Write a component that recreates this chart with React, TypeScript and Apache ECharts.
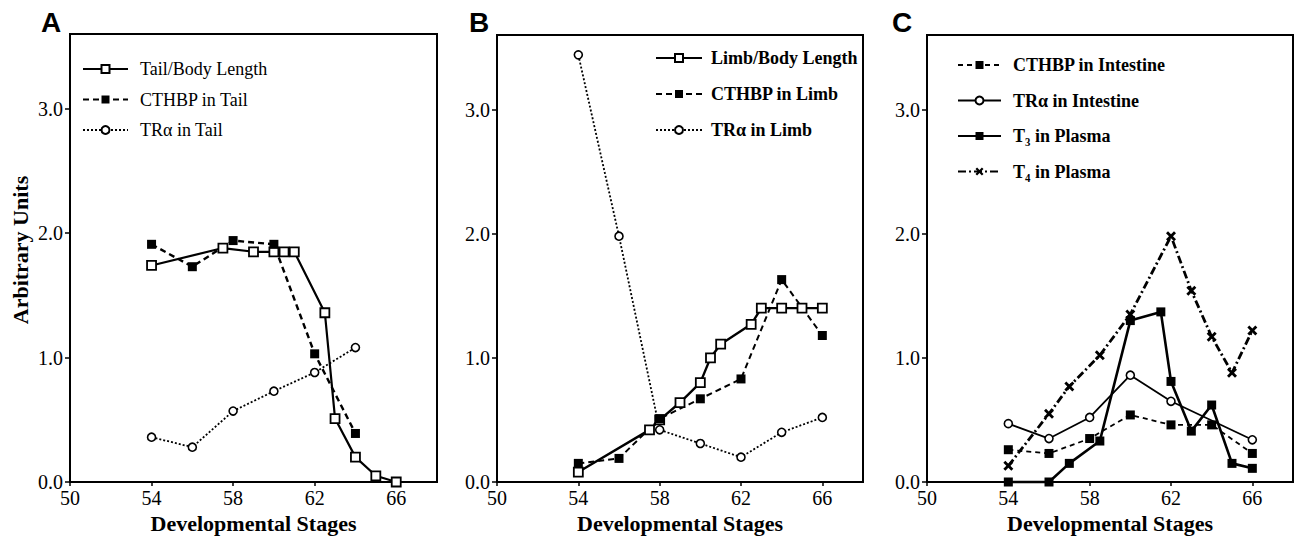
import React, { useEffect, useRef } from "react";
import * as echarts from "echarts";

// ---- tick values ----
const xTicks = [50, 54, 58, 62, 66];
const yTicks = [0, 1, 2, 3];

// ---- Panel A (Tail) ----
const tailLenX = [54, 57.5, 59, 60, 60.5, 61, 62.5, 63, 64, 65, 66];
const tailLenY = [1.74, 1.88, 1.85, 1.85, 1.85, 1.85, 1.36, 0.51, 0.2, 0.05, 0.0];
const cthbpTailX = [54, 56, 58, 60, 62, 64];
const cthbpTailY = [1.91, 1.73, 1.94, 1.91, 1.03, 0.39];
const trTailX = [54, 56, 58, 60, 62, 64];
const trTailY = [0.36, 0.28, 0.57, 0.73, 0.88, 1.08];

// ---- Panel B (Limb) ----
const limbLenX = [54, 57.5, 58, 59, 60, 60.5, 61, 62.5, 63, 64, 65, 66];
const limbLenY = [0.08, 0.42, 0.5, 0.64, 0.8, 1.0, 1.11, 1.27, 1.4, 1.4, 1.4, 1.4];
const cthbpLimbX = [54, 56, 58, 60, 62, 64, 66];
const cthbpLimbY = [0.15, 0.19, 0.51, 0.67, 0.83, 1.63, 1.18];
const trLimbX = [54, 56, 58, 60, 62, 64, 66];
const trLimbY = [3.44, 1.98, 0.42, 0.31, 0.2, 0.4, 0.52];

// ---- Panel C (Intestine / Plasma) ----
const cthbpIntX = [54, 56, 58, 60, 62, 64, 66];
const cthbpIntY = [0.26, 0.23, 0.35, 0.54, 0.46, 0.46, 0.23];
const trIntX = [54, 56, 58, 60, 62, 66];
const trIntY = [0.47, 0.35, 0.52, 0.86, 0.65, 0.34];
const t3X = [54, 56, 57, 58.5, 60, 61.5, 62, 63, 64, 65, 66];
const t3Y = [0.0, 0.0, 0.15, 0.33, 1.3, 1.37, 0.81, 0.41, 0.62, 0.15, 0.11];
const t4X = [54, 56, 57, 58.5, 60, 62, 63, 64, 65, 66];
const t4Y = [0.13, 0.55, 0.77, 1.02, 1.35, 1.98, 1.54, 1.17, 0.88, 1.22];

const zip = (xs: number[], ys: number[]) => xs.map((x, i) => [x, ys[i]]);

const SERIF = "'Liberation Serif', 'Times New Roman', serif";
const X_SYMBOL =
  "path://M0,2 L2,0 L5,3 L8,0 L10,2 L7,5 L10,8 L8,10 L5,7 L2,10 L0,8 L3,5 Z";

const grids = [
  { left: 70, top: 34, width: 367, height: 448 },
  { left: 497, top: 35, width: 366, height: 447 },
  { left: 927, top: 35, width: 366, height: 447 },
];

function makeXAxis(i: number) {
  return {
    type: "value",
    gridIndex: i,
    min: 50,
    max: 68,
    interval: 4,
    name: "Developmental Stages",
    nameLocation: "middle",
    nameGap: 29,
    nameTextStyle: { fontFamily: SERIF, fontWeight: "bold", fontSize: 22, color: "#000" },
    axisLine: { show: true, lineStyle: { color: "#000", width: 2 } },
    axisTick: { show: true, length: 4, customValues: xTicks, lineStyle: { color: "#000", width: 1.5 } },
    axisLabel: {
      customValues: xTicks,
      margin: 6,
      fontFamily: SERIF,
      fontSize: 20,
      color: "#000",
    },
    splitLine: { show: false },
  };
}

function makeYAxis(i: number) {
  return {
    type: "value",
    gridIndex: i,
    min: 0,
    max: 3.6,
    interval: 1,
    axisLine: { show: true, lineStyle: { color: "#000", width: 2 } },
    axisTick: { show: true, length: 5, customValues: yTicks, lineStyle: { color: "#000", width: 1.5 } },
    axisLabel: {
      customValues: yTicks,
      margin: 7,
      fontFamily: SERIF,
      fontSize: 20,
      color: "#000",
      formatter: (v: number) => v.toFixed(1),
    },
    splitLine: { show: false },
  };
}

const openSquare = { symbol: "rect", symbolSize: 9, itemStyle: { color: "#fff", borderColor: "#000", borderWidth: 1.8 } };
const filledSquare = { symbol: "rect", symbolSize: 9, itemStyle: { color: "#000", borderColor: "#000", borderWidth: 0 } };
const openCircle = { symbol: "circle", symbolSize: 8, itemStyle: { color: "#fff", borderColor: "#000", borderWidth: 1.6 } };
const xMark = { symbol: X_SYMBOL, symbolSize: 10, itemStyle: { color: "#000", borderWidth: 0 } };

function line(name: string, idx: number, data: number[][], sym: any, lineStyle: any) {
  return {
    type: "line",
    name,
    xAxisIndex: idx,
    yAxisIndex: idx,
    data,
    showSymbol: true,
    ...sym,
    lineStyle: { color: "#000", ...lineStyle },
    emphasis: { disabled: true },
    clip: false,
  };
}

function makeLegend(names: string[], left: number, top: number, gap: number, iw: number, bold: boolean, pad: number) {
  return {
    orient: "vertical",
    left,
    top,
    padding: 0,
    itemGap: gap,
    itemWidth: iw,
    itemHeight: 10,
    selectedMode: false,
    data: names,
    textStyle: {
      fontFamily: SERIF,
      fontSize: 18,
      lineHeight: 18,
      fontWeight: bold ? "bold" : "normal",
      color: "#000",
      padding: [0, 0, 0, pad],
    },
  };
}

export default function App() {
  const ref = useRef<HTMLDivElement>(null);
  useEffect(() => {
    if (!ref.current) return;
    const chart = echarts.init(ref.current, null, { renderer: "svg" });
    const option: any = {
      animation: false,
      backgroundColor: "#fff",
      grid: grids.map((g) => ({ ...g, show: true, borderColor: "#000", borderWidth: 2, backgroundColor: "transparent" })),
      xAxis: [0, 1, 2].map(makeXAxis),
      yAxis: [0, 1, 2].map(makeYAxis),
      legend: [
        makeLegend(["Tail/Body Length", "CTHBP in Tail", "TRα in Tail"], 82, 60, 12.5, 45, false, 7),
        makeLegend(["Limb/Body Length", "CTHBP in Limb", "TRα in Limb"], 655, 49, 18, 46, true, 4),
        makeLegend(["CTHBP in Intestine", "TRα in Intestine", "T₃ in Plasma", "T₄ in Plasma"], 957, 56, 17.5, 43, true, 7),
      ],
      graphic: [
        { type: "text", left: 41, top: 8, style: { text: "A", font: "900 28px 'Liberation Sans', Arial, sans-serif", fill: "#000" } },
        { type: "text", left: 469, top: 8, style: { text: "B", font: "900 28px 'Liberation Sans', Arial, sans-serif", fill: "#000" } },
        { type: "text", left: 892, top: 8, style: { text: "C", font: "900 28px 'Liberation Sans', Arial, sans-serif", fill: "#000" } },
        {
          type: "text",
          x: 20,
          y: 250,
          rotation: Math.PI / 2,
          style: {
            text: "Arbitrary Units",
            font: `bold 22px ${SERIF}`,
            fill: "#000",
            align: "center",
            verticalAlign: "middle",
          },
        },
      ],
      series: [
        line("Tail/Body Length", 0, zip(tailLenX, tailLenY), openSquare, { width: 2.2, type: "solid" }),
        line("CTHBP in Tail", 0, zip(cthbpTailX, cthbpTailY), filledSquare, { width: 2.4, type: [6, 4] }),
        line("TRα in Tail", 0, zip(trTailX, trTailY), openCircle, { width: 1.8, type: [2, 2] }),

        line("Limb/Body Length", 1, zip(limbLenX, limbLenY), openSquare, { width: 2.4, type: "solid" }),
        line("CTHBP in Limb", 1, zip(cthbpLimbX, cthbpLimbY), filledSquare, { width: 2, type: [6, 4] }),
        line("TRα in Limb", 1, zip(trLimbX, trLimbY), openCircle, { width: 1.8, type: [2, 2] }),

        line("CTHBP in Intestine", 2, zip(cthbpIntX, cthbpIntY), filledSquare, { width: 1.8, type: [5, 4] }),
        line("TRα in Intestine", 2, zip(trIntX, trIntY), openCircle, { width: 1.8, type: "solid" }),
        line("T₃ in Plasma", 2, zip(t3X, t3Y), filledSquare, { width: 2.6, type: "solid" }),
        line("T₄ in Plasma", 2, zip(t4X, t4Y), xMark, { width: 2.8, type: [8, 3, 2, 3] }),
      ],
    };
    chart.setOption(option);
    return () => chart.dispose();
  }, []);
  return (
    <div
      ref={ref}
      style={{ position: "absolute", left: 0, top: 0, width: 1296, height: 540, background: "#fff" }}
    />
  );
}
